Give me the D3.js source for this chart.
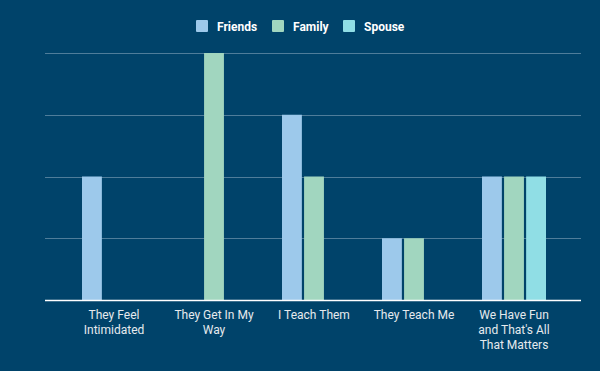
<!DOCTYPE html>
<html>
<head>
<meta charset="utf-8">
<script src="https://cdn.jsdelivr.net/npm/d3@7"></script>
<style>
  body { margin: 0; background: #00436a; }
  svg { display: block; font-family: Roboto, sans-serif; }
</style>
</head>
<body>
<svg id="chart" width="600" height="371"></svg>
<script>
const categories = ['They Feel Intimidated', 'They Get In My Way', 'I Teach Them', 'They Teach Me', 'We Have Fun and That\'s All That Matters'];
const labelLines = [['They Feel', 'Intimidated'], ['They Get In My', 'Way'], ['I Teach Them'], ['They Teach Me'], ['We Have Fun', 'and That\'s All', 'That Matters']];
const seriesNames = ['Friends', 'Family', 'Spouse'];
const friends = [2, 0, 3, 1, 2];
const family = [0, 4, 2, 1, 2];
const spouse = [0, 0, 0, 0, 2];
const colors = ['#9dc9eb', '#a1d6bf', '#90dee5'];
const yTicks = [0, 1, 2, 3, 4];

const values = [friends, family, spouse];
const svg = d3.select('#chart');

// background
svg.append('rect').attr('width', 600).attr('height', 371).attr('fill', '#00436a');

const y = d3.scaleLinear().domain([0, 4]).range([300, 53]);
const x0 = d3.scaleBand().domain(categories).range([64, 564]).paddingInner(0.36).paddingOuter(0.18);
const x1 = d3.scaleBand().domain(seriesNames).range([0, x0.bandwidth()]).paddingInner(0.1);

// grid lines
svg.append('g')
  .selectAll('line')
  .data(yTicks.slice(1))
  .join('line')
  .attr('x1', 45)
  .attr('x2', 581)
  .attr('y1', (d) => Math.round(y(d)) + 0.5)
  .attr('y2', (d) => Math.round(y(d)) + 0.5)
  .attr('stroke', '#4f7d9a')
  .attr('stroke-width', 1);

// bars
const groups = svg.append('g')
  .selectAll('g')
  .data(categories)
  .join('g')
  .attr('transform', (d) => `translate(${x0(d)},0)`);

groups.selectAll('rect')
  .data((d, i) => seriesNames.map((s, j) => ({ s: s, v: values[j][i], c: colors[j] })))
  .join('rect')
  .attr('x', (d) => x1(d.s))
  .attr('width', x1.bandwidth())
  .attr('y', (d) => y(d.v))
  .attr('height', (d) => y(0) - y(d.v))
  .attr('fill', (d) => d.c);

// baseline
svg.append('line')
  .attr('x1', 45)
  .attr('x2', 581)
  .attr('y1', y(0) + 0.5)
  .attr('y2', y(0) + 0.5)
  .attr('stroke', '#ffffff')
  .attr('stroke-width', 1.5);

// category labels
const labels = svg.append('g')
  .selectAll('text')
  .data(categories)
  .join('text')
  .attr('x', (d) => x0(d) + x0.bandwidth() / 2)
  .attr('y', 319)
  .attr('text-anchor', 'middle')
  .attr('fill', '#e6eaee')
  .style('font-size', '12px');

labels.selectAll('tspan')
  .data((d, i) => labelLines[i])
  .join('tspan')
  .attr('x', function () { return d3.select(this.parentNode).attr('x'); })
  .attr('dy', (d, i) => (i === 0 ? 0 : 15))
  .text((d) => d);

// legend
const legendX = [196, 272, 343];
const legend = svg.append('g')
  .selectAll('g')
  .data(seriesNames)
  .join('g')
  .attr('transform', (d, i) => `translate(${legendX[i]},20)`);

legend.append('rect')
  .attr('width', 12)
  .attr('height', 12)
  .attr('rx', 1)
  .attr('fill', (d, i) => colors[i]);

legend.append('text')
  .attr('x', 21)
  .attr('y', 10.5)
  .attr('fill', '#ffffff')
  .style('font-size', '12px')
  .style('font-weight', 'bold')
  .text((d) => d);
</script>
</body>
</html>
